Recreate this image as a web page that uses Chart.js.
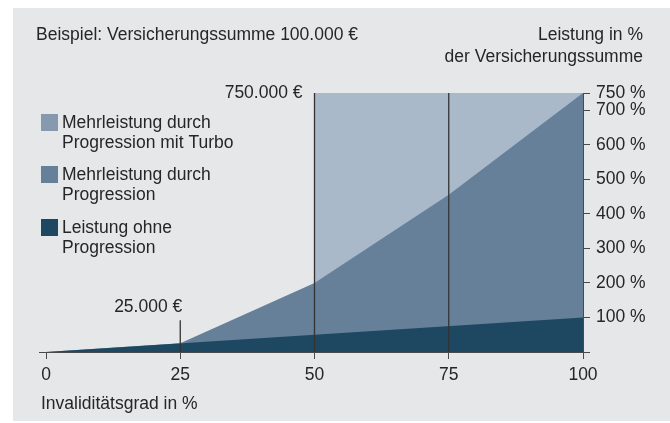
<!DOCTYPE html>
<html>
<head>
<meta charset="utf-8">
<script src="https://cdn.jsdelivr.net/npm/chart.js@4"></script>
<style>
html,body{margin:0;padding:0;background:#ffffff;}
#wrap{width:670px;height:423px;position:relative;}
</style>
</head>
<body>
<div id="wrap"><canvas id="c"></canvas></div>
<script>
// ---- data ----
const xTicks = [0, 25, 50, 75, 100];
const yTicks = [0, 100, 200, 300, 400, 500, 600, 700, 750];
const baseX = [0, 100];
const baseY = [0, 100];                 // Leistung ohne Progression
const progX = [0, 25, 50, 75, 100];
const progY = [0, 25, 200, 455, 750];   // Mehrleistung durch Progression
const turboX = [50, 100];
const turboY = [750, 750];              // Mehrleistung durch Progression mit Turbo
const markerX = [25, 50, 75];
const markerTop = [92, 750, 750];
const markerLabels = ['25.000 €', '750.000 €', ''];
const legendLabels = [
  ['Mehrleistung durch', 'Progression mit Turbo'],
  ['Mehrleistung durch', 'Progression'],
  ['Leistung ohne', 'Progression']
];
const titleText = 'Beispiel: Versicherungssumme 100.000 €';
const yTitle = ['Leistung in %', 'der Versicherungssumme'];
const xTitle = 'Invaliditätsgrad in %';

const FONT = '"Liberation Sans", Arial, Helvetica, sans-serif';
const FS = 17.5;
const TXT = '#262626';
const AX = '#4a4a4a';
const colLight = '#a9b9c9', colMed = '#66809a', colDark = '#1e4862';
const legendColors = ['#8699af', '#66809a', '#1e4862'];

const pts = (xs, ys) => xs.map((x, i) => ({x: x, y: ys[i]}));

const datasets = [];
markerX.forEach((x, i) => {
  datasets.push({type: 'line', data: [{x: x, y: 0}, {x: x, y: markerTop[i]}],
    borderColor: '#333333', borderWidth: 1.3, pointRadius: 0, fill: false});
});
datasets.push({type: 'line', label: legendLabels[2].join(' '), data: pts(baseX, baseY),
  borderWidth: 0, pointRadius: 0, fill: 'origin', backgroundColor: colDark, borderColor: colDark});
datasets.push({type: 'line', label: legendLabels[1].join(' '), data: pts(progX, progY),
  borderWidth: 0, pointRadius: 0, fill: 'origin', backgroundColor: colMed, borderColor: colMed});
datasets.push({type: 'line', label: legendLabels[0].join(' '), data: pts(turboX, turboY),
  borderWidth: 0, pointRadius: 0, fill: 'origin', backgroundColor: colLight, borderColor: colLight});

const bgPlugin = {
  id: 'bg',
  beforeDraw(chart) {
    const ctx = chart.ctx;
    ctx.save();
    ctx.fillStyle = '#e6e7e9';
    ctx.fillRect(13, 8, chart.width - 13, chart.height - 10);
    ctx.restore();
  }
};

const textPlugin = {
  id: 'texts',
  afterDraw(chart) {
    const ctx = chart.ctx;
    const xs = chart.scales.x, ys = chart.scales.y;
    ctx.save();
    ctx.fillStyle = TXT;
    ctx.font = FS + 'px ' + FONT;
    ctx.textBaseline = 'middle';
    ctx.textAlign = 'left';
    ctx.fillText(titleText, 36, 35);
    ctx.textAlign = 'right';
    ctx.fillText(yTitle[0], 643, 35);
    ctx.fillText(yTitle[1], 643, 57);
    ctx.textAlign = 'left';
    ctx.fillText(xTitle, 41, 404);
    // marker annotations
    ctx.textAlign = 'right';
    ctx.fillText(markerLabels[0], xs.getPixelForValue(markerX[0]) + 2, ys.getPixelForValue(markerTop[0]) - 13);
    ctx.fillText(markerLabels[1], xs.getPixelForValue(markerX[1]) - 12, ys.getPixelForValue(markerTop[1]));
    // extend x axis line to the left
    ctx.strokeStyle = AX; ctx.lineWidth = 1;
    const y0 = ys.getPixelForValue(0);
    ctx.beginPath(); ctx.moveTo(39, y0 + 0.5); ctx.lineTo(xs.left, y0 + 0.5); ctx.stroke();
    // legend
    const items = [0, 1, 2];
    const tops = [114, 166, 219];
    items.forEach((k, i) => {
      ctx.fillStyle = legendColors[k];
      ctx.fillRect(41, tops[i], 17, 17);
      ctx.fillStyle = TXT;
      ctx.textAlign = 'left';
      ctx.fillText(legendLabels[k][0], 62, tops[i] + 9);
      ctx.fillText(legendLabels[k][1], 62, tops[i] + 29);
    });
    ctx.restore();
  }
};

new Chart(document.getElementById('c'), {
  type: 'line',
  data: {datasets: datasets},
  options: {
    responsive: true,
    maintainAspectRatio: false,
    animation: false,
    parsing: true,
    layout: {padding: {left: 46, top: 93, right: 0, bottom: 0}},
    plugins: {legend: {display: false}, tooltip: {enabled: false}},
    scales: {
      x: {
        type: 'linear', min: 0, max: 100, z: 1,
        afterBuildTicks: (s) => { s.ticks = xTicks.map(v => ({value: v})); },
        afterFit: (s) => { s.height = 71; },
        ticks: {color: TXT, font: {family: FONT, size: FS}, padding: 6, maxRotation: 0, autoSkip: false},
        grid: {drawOnChartArea: false, drawTicks: true, tickLength: 7, color: AX, lineWidth: 1},
        border: {display: true, color: AX, width: 1}
      },
      y: {
        type: 'linear', position: 'right', min: 0, max: 750, z: 1,
        afterBuildTicks: (s) => { s.ticks = yTicks.map(v => ({value: v})); },
        afterFit: (s) => { s.width = 87; },
        ticks: {color: TXT, font: {family: FONT, size: FS}, padding: 6, autoSkip: false,
          callback: (v) => v === 0 ? '' : v + ' %'},
        grid: {drawOnChartArea: false, drawTicks: true, tickLength: 7, color: AX, lineWidth: 1},
        border: {display: true, color: AX, width: 1}
      }
    }
  },
  plugins: [bgPlugin, textPlugin]
});
</script>
</body>
</html>
